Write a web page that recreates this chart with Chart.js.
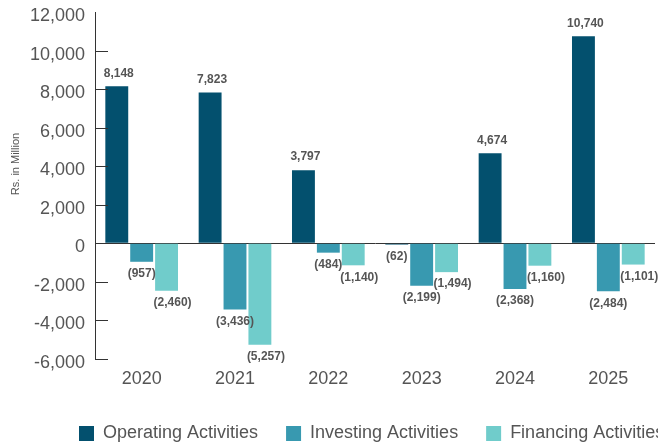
<!DOCTYPE html>
<html>
<head>
<meta charset="utf-8">
<script src="https://cdn.jsdelivr.net/npm/chart.js@4.4.1/dist/chart.umd.min.js"></script>
<style>
html,body{margin:0;padding:0;background:#fff;}
canvas{display:block;}
</style>
</head>
<body>
<canvas id="c" width="658" height="442"></canvas>
<script>
const categories = ['2020', '2021', '2022', '2023', '2024', '2025'];
const operating = [8148, 7823, 3797, -62, 4674, 10740];
const investing = [-957, -3436, -484, -2199, -2368, -2484];
const financing = [-2460, -5257, -1140, -1494, -1160, -1101];
const seriesNames = ['Operating Activities', 'Investing Activities', 'Financing Activities'];
const seriesColors = ['#03506e', '#3899b0', '#70cccb'];
const yTicks = [-6000, -4000, -2000, 0, 2000, 4000, 6000, 8000, 10000, 12000];
const yTitle = 'Rs. in Million';

const FONT = '"Liberation Sans", Arial, sans-serif';
const LEGEND_PAD = 28;

function fmt(v) {
  const s = Math.abs(v).toLocaleString('en-US');
  return v < 0 ? '(' + s + ')' : s;
}

const labelPlugin = {
  id: 'barLabels',
  afterDatasetsDraw(chart) {
    const ctx = chart.ctx;
    ctx.save();
    ctx.font = 'bold 12px ' + FONT;
    ctx.fillStyle = '#555555';
    ctx.textAlign = 'center';
    ctx.textBaseline = 'middle';
    chart.data.datasets.forEach((ds, di) => {
      const meta = chart.getDatasetMeta(di);
      meta.data.forEach((bar, i) => {
        const v = ds.data[i];
        const dx = di === 2 ? 6 : (di === 0 && v > 0 ? 2 : 0);
        const y = v >= 0 ? bar.y - 13 : bar.y + 12;
        ctx.fillText(fmt(v), bar.x + dx, y);
      });
    });
    ctx.restore();
  }
};

const tickMarkPlugin = {
  id: 'innerTicks',
  afterDraw(chart) {
    const ctx = chart.ctx;
    const ys = chart.scales.y;
    const left = chart.chartArea.left;
    ctx.save();
    ctx.strokeStyle = '#333333';
    ctx.lineWidth = 1;
    ys.ticks.forEach(t => {
      if (t.value === 12000 || t.value === 0) return;
      const py = Math.round(ys.getPixelForValue(t.value)) + 0.5;
      ctx.beginPath();
      ctx.moveTo(left, py);
      ctx.lineTo(left + 13, py);
      ctx.stroke();
    });
    ctx.translate(16, 164);
    ctx.rotate(-Math.PI / 2);
    ctx.font = '11px ' + FONT;
    ctx.fillStyle = '#555555';
    ctx.textAlign = 'center';
    ctx.textBaseline = 'middle';
    ctx.fillText(yTitle, 0, 0);
    ctx.restore();
  }
};

const legendPlacePlugin = {
  id: 'legendPlace',
  afterLayout(chart) {
    const lg = chart.legend;
    if (!lg) return;
    const w = lg.right - lg.left;
    lg.left = 79 - LEGEND_PAD;
    lg.right = lg.left + w;
    lg.top = 424.5 - LEGEND_PAD;
  }
};

const datasets = [operating, investing, financing].map((d, i) => ({
  label: seriesNames[i],
  data: d,
  backgroundColor: seriesColors[i],
  borderWidth: 0,
  barPercentage: 0.92,
  categoryPercentage: 0.8
}));

new Chart(document.getElementById('c'), {
  type: 'bar',
  data: { labels: categories, datasets: datasets },
  options: {
    responsive: false,
    animation: false,
    devicePixelRatio: 1,
    layout: { padding: { top: 12, right: 3, left: 0, bottom: 0 } },
    plugins: {
      legend: {
        position: 'bottom',
        align: 'start',
        labels: {
          boxWidth: 15,
          boxHeight: 15,
          padding: LEGEND_PAD,
          color: '#555555',
          font: { family: FONT, size: 18 }
        }
      },
      tooltip: { enabled: false }
    },
    scales: {
      x: {
        grid: { display: false, drawTicks: false },
        border: { display: false },
        afterFit(scale) { scale.height = 27; },
        ticks: {
          color: '#555555',
          padding: 9,
          font: { family: FONT, size: 18 }
        }
      },
      y: {
        min: -6000,
        max: 12000,
        afterBuildTicks(scale) { scale.ticks = yTicks.map(v => ({ value: v })); },
        afterFit(scale) { scale.width = 95; scale.paddingTop = 0; scale.paddingBottom = 0; },
        grid: {
          drawTicks: false,
          color: ctx => (ctx.tick && ctx.tick.value === 0) ? '#333333' : 'rgba(0,0,0,0)',
          lineWidth: 1
        },
        border: { display: true, color: '#333333', width: 1 },
        ticks: {
          color: '#555555',
          padding: 10,
          labelOffset: 4,
          font: { family: FONT, size: 18 },
          callback: v => v.toLocaleString('en-US')
        },
        title: { display: false }
      }
    }
  },
  plugins: [labelPlugin, tickMarkPlugin, legendPlacePlugin]
});
</script>
</body>
</html>
